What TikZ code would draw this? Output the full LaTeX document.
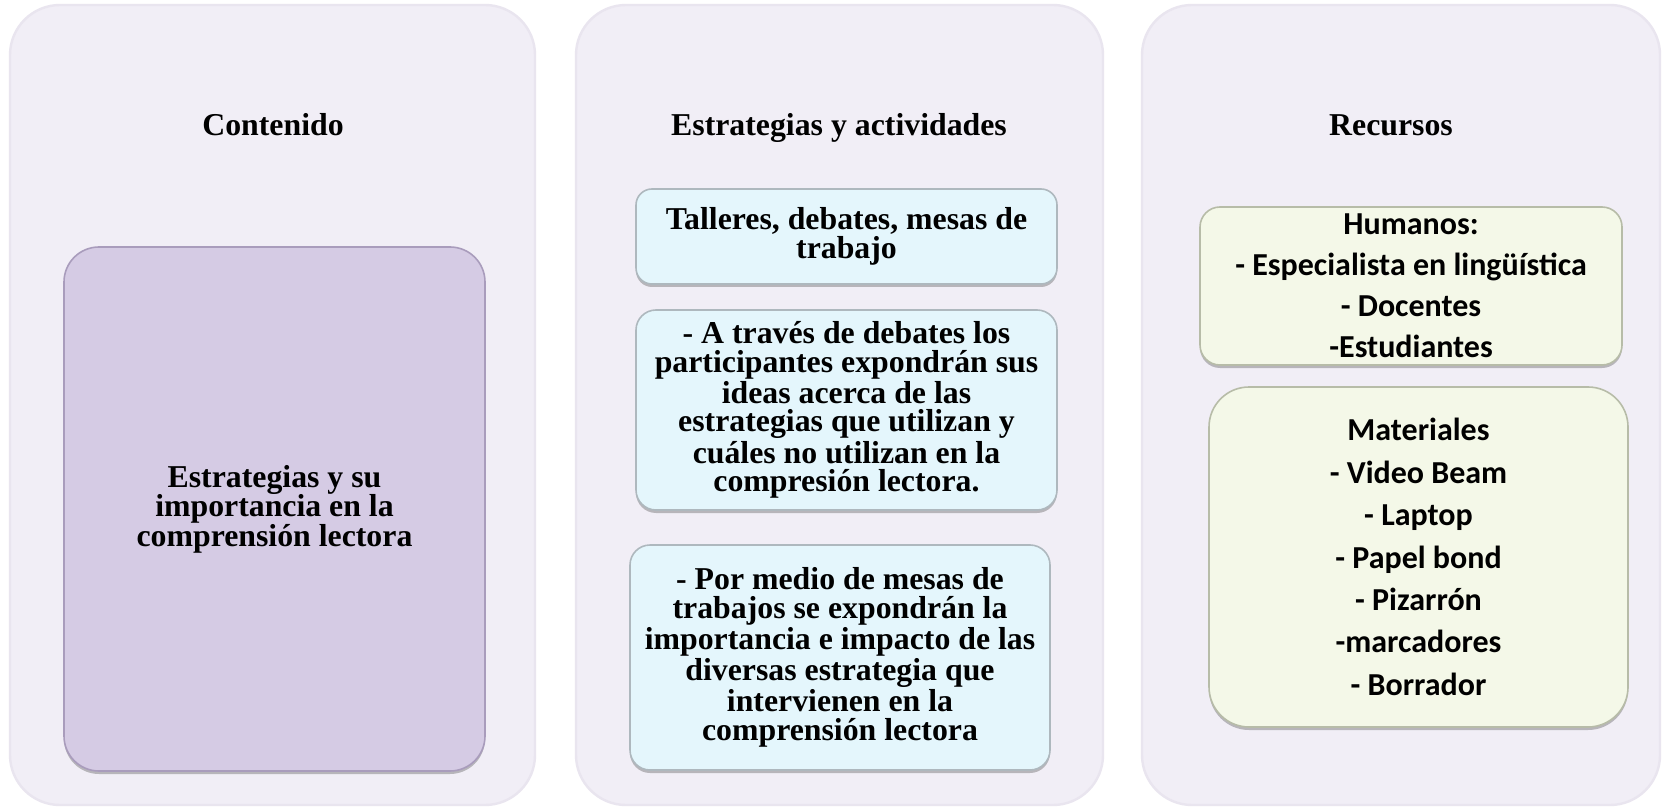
\documentclass[tikz,border=0pt]{standalone}
\usepackage{fontspec}
\setmainfont{Liberation Serif}
\newfontfamily\calib{Carlito}
\usetikzlibrary{shadows}
\definecolor{panelbg}{HTML}{F1EEF6}
\definecolor{panelrim}{HTML}{E9E5EF}
\definecolor{purplebox}{HTML}{D5CBE4}
\definecolor{purplerim}{HTML}{A99CBC}
\definecolor{bluebox}{HTML}{E4F6FC}
\definecolor{bluerim}{HTML}{AEB8BE}
\definecolor{greenbox}{HTML}{F4F8E8}
\definecolor{greenrim}{HTML}{B7BCA8}
\tikzset{
  panel/.style={rectangle, rounded corners=25pt, fill=panelbg, draw=panelrim, line width=1.2pt, inner sep=0pt},
  boxshadow/.style={drop shadow={shadow xshift=0pt, shadow yshift=-1.5pt, opacity=0.35, fill=black!70}},
  purplecard/.style={rectangle, rounded corners=17.5pt, fill=purplebox, draw=purplerim, line width=0.8pt, boxshadow, inner sep=0pt, align=center, font=\fontsize{15.9}{14.8}\selectfont\bfseries},
  bluecard/.style={rectangle, rounded corners=8pt, fill=bluebox, draw=bluerim, line width=0.8pt, boxshadow, inner sep=0pt, align=center, font=\fontsize{15.9}{14.4}\selectfont\bfseries},
  greencard/.style={rectangle, rounded corners=10pt, fill=greenbox, draw=greenrim, line width=0.8pt, boxshadow, inner sep=0pt, align=center},
  titletext/.style={font=\fontsize{15.9}{18}\selectfont\bfseries, anchor=base}
}
\begin{document}
\begin{tikzpicture}[x=0.5pt, y=-0.5pt]
\useasboundingbox (0,0) rectangle (1663,807);
\fill[white] (0,0) rectangle (1663,807);
% panels
\node[panel, minimum width=262.5pt, minimum height=400pt] (p1) at (272.5,405) {};
\node[panel, minimum width=263.5pt, minimum height=400pt] (p2) at (839.5,405) {};
\node[panel, minimum width=259pt, minimum height=400pt] (p3) at (1401,405) {};
% titles
\node[titletext] (t1) at (273,136) {Contenido};
\node[titletext] (t2) at (839,136) {Estrategias y actividades};
\node[titletext] (t3) at (1391,136) {Recursos};
% column 1
\node[purplecard, minimum width=210.5pt, minimum height=262pt] (c1) at (274.5,509)
  {Estrategias y su\\importancia en la\\comprensión lectora};
% column 2
\node[bluecard, minimum width=210.5pt, minimum height=47.5pt] (b1) at (846.5,236.5)
  {Talleres, debates, mesas de\\trabajo};
\node[bluecard, rounded corners=10pt, minimum width=210.5pt, minimum height=100pt] (b2) at (846.5,410)
  {- A través de debates los\\participantes expondrán sus\\ideas acerca de las\\estrategias que utilizan y\\cuáles no utilizan en la\\compresión lectora.};
\node[bluecard, rounded corners=10pt, minimum width=210pt, minimum height=112.5pt] (b3) at (840,657.5)
  {- Por medio de mesas de\\trabajos se expondrán la\\importancia e impacto de las\\diversas estrategia que\\intervienen en la\\comprensión lectora};
% column 3
\node[greencard, minimum width=211pt, minimum height=79pt, font=\calib\fontsize{16}{20.5}\selectfont\bfseries] (g1) at (1411,286)
  {Humanos:\\- Especialista en lingüística\\- Docentes\\-Estudiantes};
\node[greencard, rounded corners=20pt, minimum width=209.5pt, minimum height=170pt, font=\calib\fontsize{16}{21.2}\selectfont\bfseries] (g2) at (1418.5,557)
  {Materiales\\- Video Beam\\- Laptop\\- Papel bond\\- Pizarrón\\-marcadores\\- Borrador};
\end{tikzpicture}
\end{document}
